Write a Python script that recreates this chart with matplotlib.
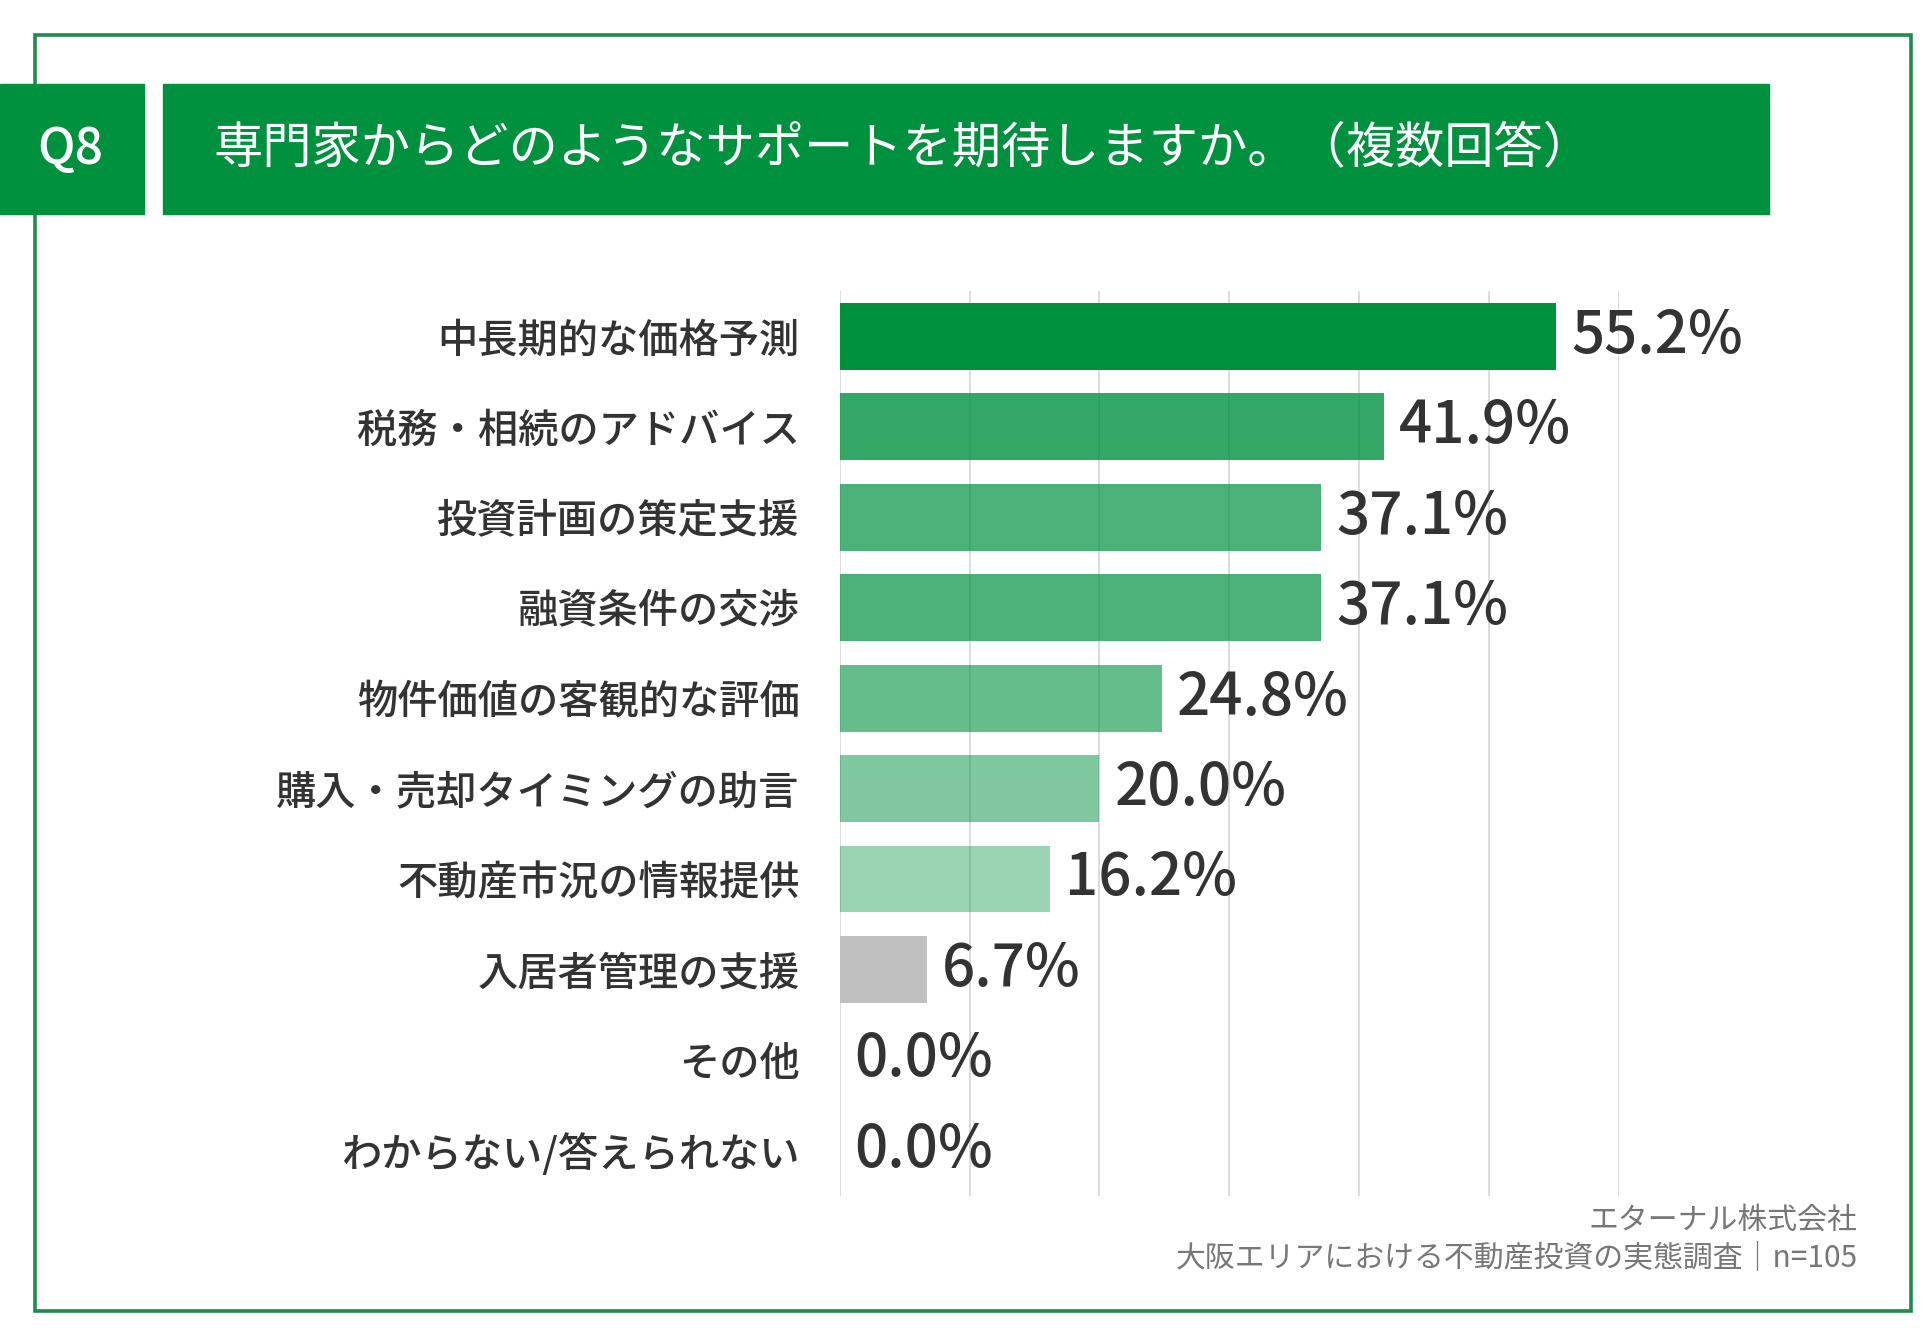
import matplotlib.pyplot as plt
from matplotlib.patches import Rectangle

plt.rcParams['font.family'] = ['Noto Sans CJK JP', 'DejaVu Sans']

title = "専門家からどのようなサポートを期待しますか。（複数回答）"
question = "Q8"
categories = [
    "中長期的な価格予測",
    "税務・相続のアドバイス",
    "投資計画の策定支援",
    "融資条件の交渉",
    "物件価値の客観的な評価",
    "購入・売却タイミングの助言",
    "不動産市況の情報提供",
    "入居者管理の支援",
    "その他",
    "わからない/答えられない",
]
values = [55.2, 41.9, 37.1, 37.1, 24.8, 20.0, 16.2, 6.7, 0.0, 0.0]
alphas = [1.0, 0.8, 0.7, 0.7, 0.6, 0.5, 0.4, None, None, None]
source_lines = ["エターナル株式会社", "大阪エリアにおける不動産投資の実態調査｜n=105"]

GREEN = "#00913f"
GREY_BAR = "#c0c0c0"
TEXT = "#333333"

W, H = 1560.0, 1080.0  # layout measured on a 1560x1080 grid


def fx(x):
    return x / W


def fy(y):
    return 1 - y / H


fig = plt.figure(figsize=(19.32, 13.38), dpi=100)

# outer frame
fig.patches.append(Rectangle((fx(28), fy(1058)), fx(1543) - fx(28), fy(28) - fy(1058),
                             transform=fig.transFigure, fill=False,
                             edgecolor="#1f8a4c", linewidth=2.6))

# header boxes
fig.patches.append(Rectangle((fx(0), fy(173)), fx(116), fy(68) - fy(173),
                             transform=fig.transFigure, color=GREEN, zorder=2))
fig.patches.append(Rectangle((fx(132), fy(173)), fx(1428) - fx(132), fy(68) - fy(173),
                             transform=fig.transFigure, color=GREEN, zorder=2))
fig.text(fx(57), fy(121), question, color="white", fontsize=36, fontweight="medium",
         ha="center", va="center", zorder=3)
fig.text(fx(172), fy(120), title, color="white", fontsize=35.5,
         ha="left", va="center", zorder=3)

# chart
ax = fig.add_axes([fx(678), fy(965), fx(1307) - fx(678), fy(235) - fy(965)])
ypos = list(range(len(categories)))
colors = []
for a in alphas:
    if a is None:
        colors.append(GREY_BAR)
    else:
        colors.append((0 / 255, 145 / 255, 63 / 255, a))
ax.barh(ypos, values, height=0.74, color=colors, zorder=2)
ax.set_xlim(0, 60)
ax.set_ylim(len(categories) - 0.5, -0.5)
ax.set_xticks(range(0, 61, 10))
ax.grid(axis="x", color="#d9d9d9", linewidth=1.3, zorder=0)
ax.set_axisbelow(True)
ax.tick_params(axis="x", length=0, labelbottom=False)
ax.tick_params(axis="y", length=0, pad=29)
ax.set_yticks(ypos)
ax.set_yticklabels(categories, fontsize=29, fontweight="medium", color=TEXT)
for s in ax.spines.values():
    s.set_visible(False)

for y, v in zip(ypos, values):
    ax.text(v + 1.15, y, f"{v:.1f}%", fontsize=42, fontweight="medium",
            color=TEXT, ha="left", va="center", zorder=3)

# source note
fig.text(fx(1500), fy(985), source_lines[0], color="#777777", fontsize=21.5,
         ha="right", va="center")
fig.text(fx(1500), fy(1015), source_lines[1], color="#777777", fontsize=21.5,
         ha="right", va="center")

fig.savefig("out.png", dpi=100)
